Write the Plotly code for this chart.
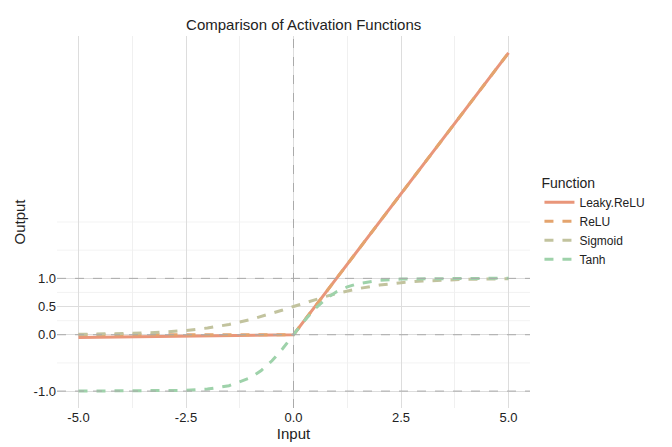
import plotly.graph_objects as go

x = [-5,-4.5,-4,-3.5,-3,-2.5,-2,-1.5,-1,-0.75,-0.5,-0.25,0,0.25,0.5,0.75,1,1.25,1.5,2,2.5,3,3.5,4,4.5,5]
leaky = [-0.05,-0.045,-0.04,-0.035,-0.03,-0.025,-0.02,-0.015,-0.01,-0.0075,-0.005,-0.0025,0,0.25,0.5,0.75,1,1.25,1.5,2,2.5,3,3.5,4,4.5,5]
relu = [0,0,0,0,0,0,0,0,0,0,0,0,0,0.25,0.5,0.75,1,1.25,1.5,2,2.5,3,3.5,4,4.5,5]
sigmoid = [0.007,0.011,0.018,0.029,0.047,0.076,0.119,0.182,0.269,0.321,0.378,0.438,0.5,0.562,0.622,0.679,0.731,0.777,0.818,0.881,0.924,0.953,0.971,0.982,0.989,0.993]
tanh = [-1.0,-1.0,-0.999,-0.998,-0.995,-0.987,-0.964,-0.905,-0.762,-0.635,-0.462,-0.245,0,0.245,0.462,0.635,0.762,0.848,0.905,0.964,0.987,0.995,0.998,0.999,1.0,1.0]

names = ["Leaky.ReLU","ReLU","Sigmoid","Tanh"]
series = [leaky, relu, sigmoid, tanh]
colors = ["#E9967A","#E4A46E","#C2C39E","#9ED2AA"]
dashes = ["solid","dash","dash","dash"]

fig = go.Figure()
for n,s,c,d in zip(names,series,colors,dashes):
    fig.add_trace(go.Scatter(x=x,y=s,mode="lines",name=n,line=dict(color=c,width=3,dash=d)))

for yv in [-1,0,1]:
    fig.add_hline(y=yv,line=dict(color="#AAAAAA",width=1,dash="dash"))
fig.add_vline(x=0,line=dict(color="#AAAAAA",width=1,dash="dash"))
for yv in [-0.5,0.25,0.75,1.5,2.0]:
    fig.add_hline(y=yv,line=dict(color="#F0F0F0",width=0.8),layer="below")

fig.update_layout(
    width=672,height=447,plot_bgcolor="white",paper_bgcolor="white",
    font=dict(family="Liberation Sans, Arial",size=13,color="#222"),
    title=dict(text="Comparison of Activation Functions",x=0.44,xanchor="center",y=0.975,font=dict(size=15)),
    margin=dict(l=49,r=150,t=28,b=47),
    legend=dict(title=dict(text="Function"),x=1.02,y=0.5,yanchor="middle",font=dict(size=12)),
    xaxis=dict(title=dict(text="Input",standoff=4,font=dict(size=15)),range=[-5.5,5.5],tickvals=[-5,-2.5,0,2.5,5],
               ticktext=["-5.0","-2.5","0.0","2.5","5.0"],showgrid=True,gridcolor="#DDDDDD",
               zeroline=False,minor=dict(tickvals=[-3.75,-1.25,1.25,3.75],showgrid=True,gridcolor="#F0F0F0")),
    yaxis=dict(title=dict(text="Output",standoff=4,font=dict(size=15)),range=[-1.3,5.3],tickvals=[-1,0,0.5,1],
               ticktext=["-1.0","0.0","0.5","1.0"],showgrid=True,gridcolor="#DDDDDD",zeroline=False),
)
fig.write_html("out.html")
